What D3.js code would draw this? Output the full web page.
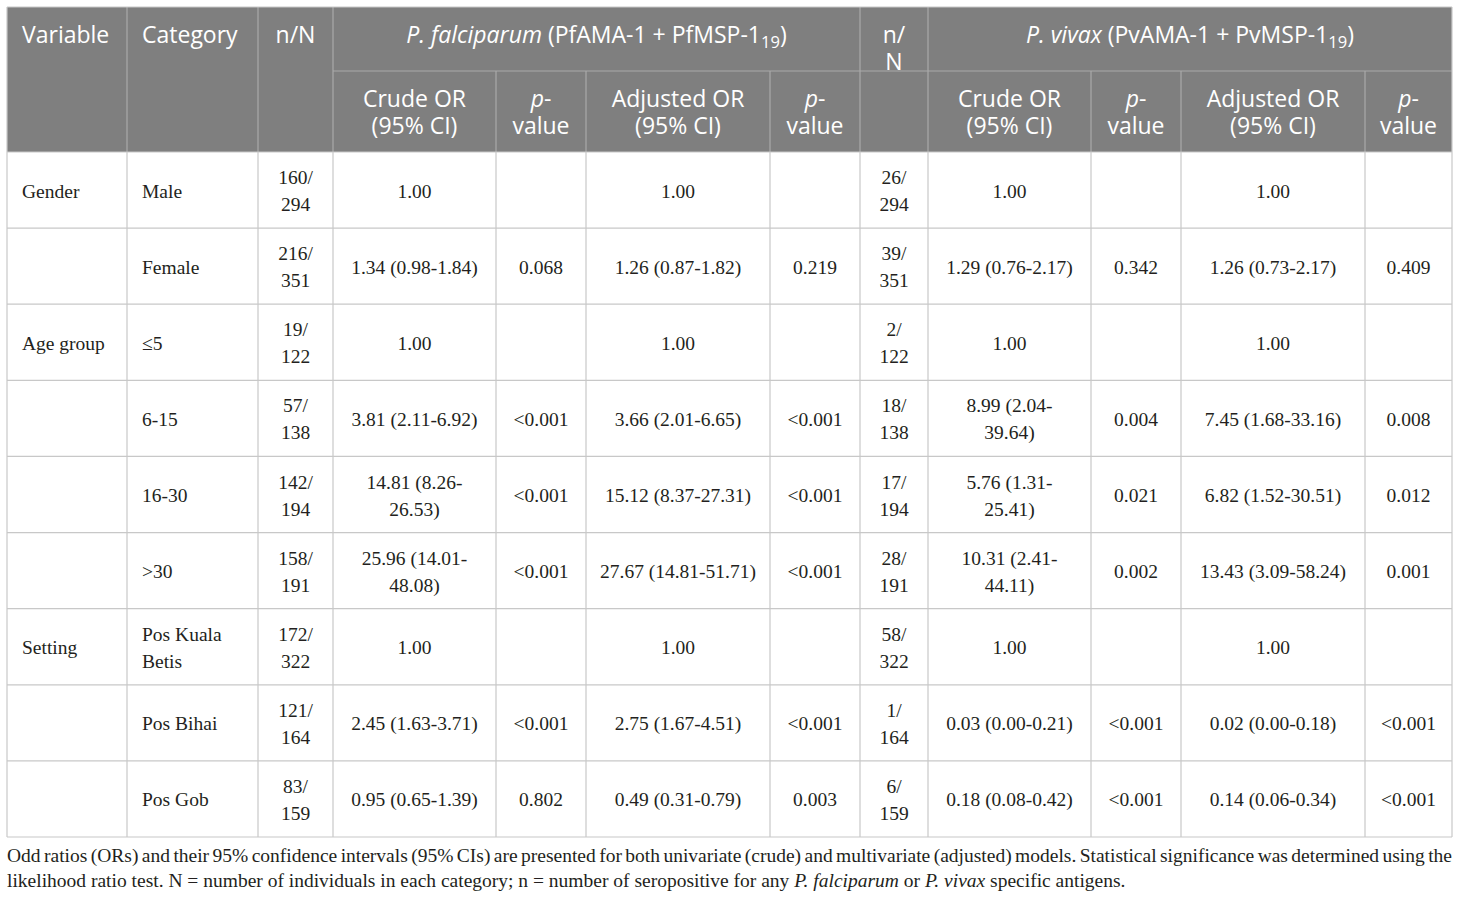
<!DOCTYPE html>
<html>
<head>
<meta charset="utf-8">
<script src="https://cdn.jsdelivr.net/npm/d3@7"></script>
<style>
  body { margin: 0; background: #fff; }
</style>
</head>
<body>
<svg id="chart" width="1460" height="898"></svg>
<script>
"use strict"

//------------------------------DATA------------------------------//
const variables = ["Gender", "", "Age group", "", "", "", "Setting", "", ""];
const categories = ["Male", "Female", "≤5", "6-15", "16-30", ">30", "Pos Kuala Betis", "Pos Bihai", "Pos Gob"];

const pfNN = ["160/294", "216/351", "19/122", "57/138", "142/194", "158/191", "172/322", "121/164", "83/159"];
const pfCrudeOR = ["1.00", "1.34 (0.98-1.84)", "1.00", "3.81 (2.11-6.92)", "14.81 (8.26-26.53)", "25.96 (14.01-48.08)", "1.00", "2.45 (1.63-3.71)", "0.95 (0.65-1.39)"];
const pfCrudeP = ["", "0.068", "", "<0.001", "<0.001", "<0.001", "", "<0.001", "0.802"];
const pfAdjOR = ["1.00", "1.26 (0.87-1.82)", "1.00", "3.66 (2.01-6.65)", "15.12 (8.37-27.31)", "27.67 (14.81-51.71)", "1.00", "2.75 (1.67-4.51)", "0.49 (0.31-0.79)"];
const pfAdjP = ["", "0.219", "", "<0.001", "<0.001", "<0.001", "", "<0.001", "0.003"];

const pvNN = ["26/294", "39/351", "2/122", "18/138", "17/194", "28/191", "58/322", "1/164", "6/159"];
const pvCrudeOR = ["1.00", "1.29 (0.76-2.17)", "1.00", "8.99 (2.04-39.64)", "5.76 (1.31-25.41)", "10.31 (2.41-44.11)", "1.00", "0.03 (0.00-0.21)", "0.18 (0.08-0.42)"];
const pvCrudeP = ["", "0.342", "", "0.004", "0.021", "0.002", "", "<0.001", "<0.001"];
const pvAdjOR = ["1.00", "1.26 (0.73-2.17)", "1.00", "7.45 (1.68-33.16)", "6.82 (1.52-30.51)", "13.43 (3.09-58.24)", "1.00", "0.02 (0.00-0.18)", "0.14 (0.06-0.34)"];
const pvAdjP = ["", "0.409", "", "0.008", "0.012", "0.001", "", "<0.001", "<0.001"];

// header labels (*italic*, _subscript_)
const columnLabels = ["Variable", "Category", "n/N", "Crude OR (95% CI)", "*p*-value", "Adjusted OR (95% CI)", "*p*-value",
    "n/N", "Crude OR (95% CI)", "*p*-value", "Adjusted OR (95% CI)", "*p*-value"];
const groupLabels = ["*P. falciparum* (PfAMA-1 + PfMSP-1_19_)", "*P. vivax* (PvAMA-1 + PvMSP-1_19_)"];

const footnoteLines = [
    "Odd ratios (ORs) and their 95% confidence intervals (95% CIs) are presented for both univariate (crude) and multivariate (adjusted) models. Statistical significance was determined using the",
    "likelihood ratio test. N = number of individuals in each category; n = number of seropositive for any *P. falciparum* or *P. vivax* specific antigens."
];

const columns = [variables, categories, pfNN, pfCrudeOR, pfCrudeP, pfAdjOR, pfAdjP, pvNN, pvCrudeOR, pvCrudeP, pvAdjOR, pvAdjP];

//-----------------------------LAYOUT-----------------------------//
const colEdges = [7, 127, 258, 333, 496, 586, 770, 860, 928, 1091, 1181, 1365, 1452];
const headTop = 7, headMid = 71, headBottom = 152, tableBottom = 837;
const leftAligned = [0, 1];
const headerSpansBoth = [0, 1, 2];

const bodyFont = "'Liberation Serif', 'DejaVu Serif', serif";
const headFont = "'Open Sans', 'Noto Sans', sans-serif";
const bodySize = 19.5, headSize = 23;
const lineH = 27;

const svg = d3.select("#chart");

const colX = d3.scaleOrdinal().domain(d3.range(columns.length)).range(colEdges.slice(0, -1));
const colW = d3.scaleOrdinal().domain(d3.range(columns.length)).range(d3.pairs(colEdges).map(([a, b]) => b - a));
const rowY = d3.scaleBand().domain(d3.range(categories.length)).range([headBottom, tableBottom]);

// measurer
const measurer = svg.append("text").attr("visibility", "hidden");
const measure = (str, font, size) => {
    measurer.style("font-family", font).style("font-size", size + "px").text(str);
    return measurer.node().getComputedTextLength();
};

// parse markup into styled segments with plain-text offsets
const parseRich = (str) => {
    const segs = [];
    let italic = false, sub = false, buf = "", start = 0;
    const flush = () => {
        if (buf) segs.push({ text: buf, italic, sub, start, end: start + buf.length });
        start += buf.length;
        buf = "";
    };
    for (const ch of str) {
        if (ch === "*") { flush(); italic = !italic; }
        else if (ch === "_") { flush(); sub = !sub; }
        else { buf += ch; }
    }
    flush();
    return { plain: segs.map(s => s.text).join(""), segs };
};

// greedy wrap, breaking after spaces, hyphens and slashes
const wrap = (plain, avail, font, size) => {
    const tokens = plain.match(/[^\s\-\/]*(?:[\-\/]|\s+|$)/g).filter(t => t.length);
    const lines = [];
    let cur = "", curStart = 0, offset = 0;
    tokens.forEach(tok => {
        if (cur && measure((cur + tok).trimEnd(), font, size) > avail) {
            lines.push({ start: curStart, end: curStart + cur.trimEnd().length });
            curStart = offset;
            cur = tok;
        } else {
            cur += tok;
        }
        offset += tok.length;
    });
    if (cur) lines.push({ start: curStart, end: curStart + cur.trimEnd().length });
    return lines;
};

const renderLine = (g, rich, line, x, y, anchor, font, size, color) => {
    const t = g.append("text")
        .attr("x", x).attr("y", y)
        .attr("text-anchor", anchor)
        .style("font-family", font)
        .style("font-size", size + "px")
        .attr("fill", color);
    let shifted = 0;
    const subDrop = size * 0.22;
    rich.segs.forEach(s => {
        const a = Math.max(s.start, line.start), b = Math.min(s.end, line.end);
        if (b <= a) return;
        const ts = t.append("tspan").text(s.text.slice(a - s.start, b - s.start));
        if (s.italic) ts.style("font-style", "italic");
        const want = s.sub ? subDrop : 0;
        if (want !== shifted) { ts.attr("dy", want - shifted); shifted = want; }
        if (s.sub) ts.style("font-size", (size * 0.72) + "px");
    });
    return t;
};

const drawCell = (g, str, col, top, height, opts) => {
    if (!str) return;
    const rich = parseRich(str);
    const lines = wrap(rich.plain, colW(col) - opts.pad * 2, opts.font, opts.size);
    const left = leftAligned.includes(col);
    const x = left ? colX(col) + 15 : colX(col) + colW(col) / 2;
    lines.forEach((ln, i) => {
        const y = opts.valign === "top"
            ? top + 36 + i * lineH
            : top + height / 2 + 7.5 + (i - (lines.length - 1) / 2) * lineH;
        renderLine(g, rich, ln, x, y, left ? "start" : "middle", opts.font, opts.size, opts.color);
    });
};

//-----------------------------HEADER-----------------------------//
const head = svg.append("g").attr("class", "header");
head.append("rect")
    .attr("x", colEdges[0]).attr("y", headTop)
    .attr("width", colEdges[colEdges.length - 1] - colEdges[0])
    .attr("height", headBottom - headTop)
    .attr("fill", "#7f7f7f");

const headOpts = { font: headFont, size: headSize, color: "#ffffff", pad: 16, valign: "top" };
columnLabels.forEach((lab, i) => {
    if (headerSpansBoth.includes(i)) drawCell(head, lab, i, headTop, headBottom - headTop, headOpts);
    else if (i === 7) drawCell(head, lab, i, headTop, headMid - headTop, headOpts);
    else drawCell(head, lab, i, headMid, headBottom - headMid, headOpts);
});

// group labels spanning column blocks
const groupSpans = [[3, 6], [8, 11]];
groupLabels.forEach((lab, gi) => {
    const [c0, c1] = groupSpans[gi];
    const x0 = colX(c0), x1 = colX(c1) + colW(c1);
    const rich = parseRich(lab);
    renderLine(head, rich, { start: 0, end: rich.plain.length }, (x0 + x1) / 2, headTop + 36, "middle", headFont, headSize, "#ffffff");
});

// header rules
const headLine = "#a9a9a9";
head.append("line")
    .attr("x1", colEdges[3]).attr("x2", colEdges[12])
    .attr("y1", headMid).attr("y2", headMid)
    .attr("stroke", headLine).attr("stroke-width", 1.2);
head.selectAll("line.v")
    .data(d3.range(1, 12))
    .join("line")
    .attr("class", "v")
    .attr("x1", i => colEdges[i]).attr("x2", i => colEdges[i])
    .attr("y1", i => [1, 2, 3, 7, 8].includes(i) ? headTop : headMid)
    .attr("y2", headBottom)
    .attr("stroke", headLine).attr("stroke-width", 1.2);

//------------------------------BODY------------------------------//
const body = svg.append("g").attr("class", "body");
const gridColor = "#c8c8c8";

body.selectAll("line.h")
    .data(d3.range(categories.length + 1))
    .join("line")
    .attr("class", "h")
    .attr("x1", colEdges[0]).attr("x2", colEdges[12])
    .attr("y1", r => r < categories.length ? rowY(r) : tableBottom)
    .attr("y2", r => r < categories.length ? rowY(r) : tableBottom)
    .attr("stroke", gridColor).attr("stroke-width", 1.2);

body.selectAll("line.v")
    .data(colEdges)
    .join("line")
    .attr("class", "v")
    .attr("x1", d => d).attr("x2", d => d)
    .attr("y1", (d, i) => (i === 0 || i === 12) ? headTop : headBottom)
    .attr("y2", tableBottom)
    .attr("stroke", gridColor).attr("stroke-width", 1.2);

svg.append("line")
    .attr("x1", colEdges[0]).attr("x2", colEdges[12])
    .attr("y1", headTop).attr("y2", headTop)
    .attr("stroke", gridColor).attr("stroke-width", 1.2);

const bodyOpts = { font: bodyFont, size: bodySize, color: "#231f20", pad: 14, valign: "middle" };
columns.forEach((values, c) => {
    values.forEach((v, r) => drawCell(body, v, c, rowY(r), rowY.bandwidth(), bodyOpts));
});

//----------------------------FOOTNOTE----------------------------//
const foot = svg.append("g").attr("class", "footnote");
const footWidth = colEdges[12] - colEdges[0];
footnoteLines.forEach((ln, i) => {
    const rich = parseRich(ln);
    const t = renderLine(foot, rich, { start: 0, end: rich.plain.length }, colEdges[0], 862 + i * 25, "start", bodyFont, bodySize, "#231f20");
    if (i < footnoteLines.length - 1) {
        const natural = t.node().getComputedTextLength();
        const gaps = (rich.plain.match(/ /g) || []).length;
        t.style("word-spacing", ((footWidth - natural) / gaps) + "px");
    }
});

measurer.remove();
</script>
</body>
</html>
